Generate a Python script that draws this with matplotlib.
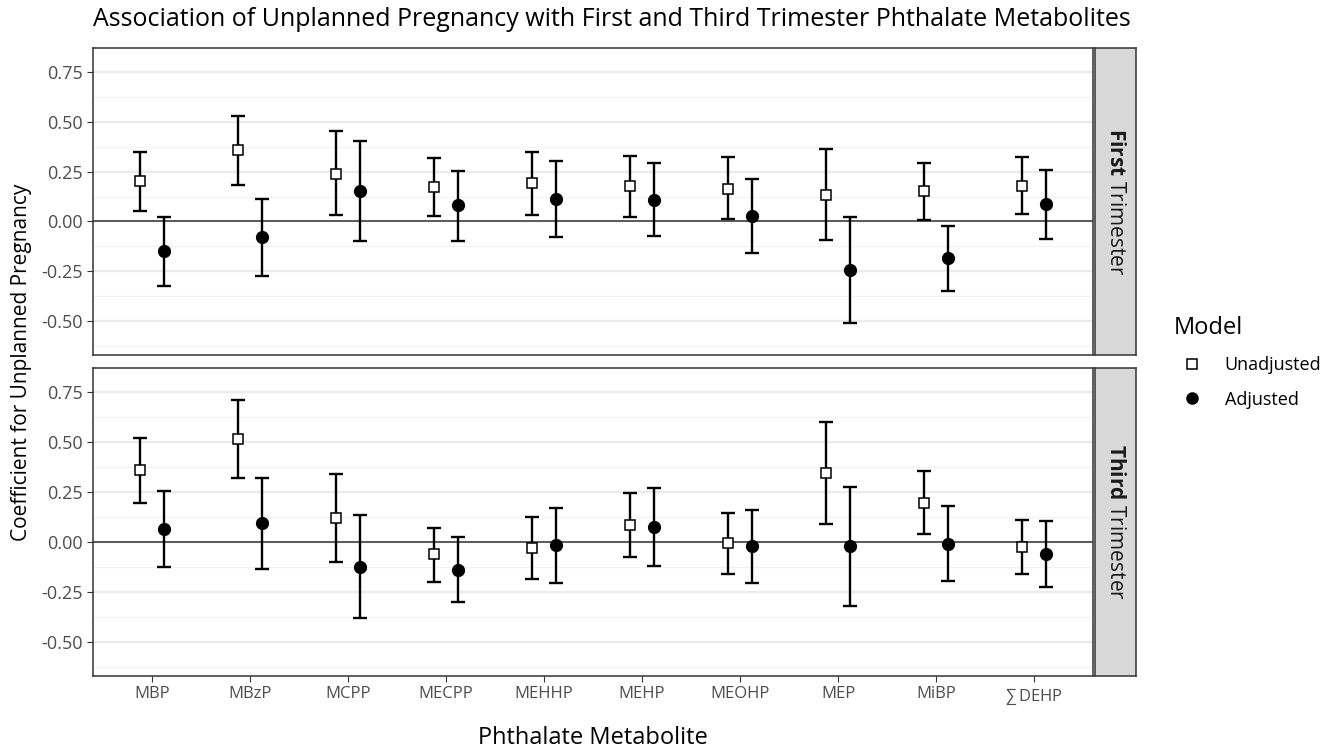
import numpy as np
import matplotlib
matplotlib.use("Agg")
import matplotlib.pyplot as plt
from matplotlib.lines import Line2D

plt.rcParams["font.family"] = ["Open Sans", "DejaVu Sans"]
plt.rcParams["mathtext.fontset"] = "custom"
plt.rcParams["mathtext.rm"] = "Open Sans"
plt.rcParams["mathtext.bf"] = "Open Sans:bold"

metabolites = ["MBP", "MBzP", "MCPP", "MECPP", "MEHHP", "MEHP", "MEOHP", "MEP", "MiBP", r"$\sum\,$DEHP"]

# First trimester
first_unadj = [0.203, 0.357, 0.240, 0.173, 0.192, 0.177, 0.165, 0.133, 0.153, 0.180]
first_unadj_lo = [0.053, 0.185, 0.030, 0.027, 0.033, 0.022, 0.012, -0.095, 0.008, 0.037]
first_unadj_hi = [0.347, 0.527, 0.453, 0.317, 0.350, 0.330, 0.322, 0.362, 0.293, 0.322]
first_adj = [-0.150, -0.080, 0.153, 0.080, 0.113, 0.110, 0.028, -0.242, -0.185, 0.085]
first_adj_lo = [-0.322, -0.273, -0.097, -0.097, -0.077, -0.075, -0.158, -0.508, -0.350, -0.087]
first_adj_hi = [0.020, 0.112, 0.405, 0.253, 0.305, 0.295, 0.212, 0.023, -0.022, 0.257]

# Third trimester
third_unadj = [0.358, 0.512, 0.122, -0.062, -0.028, 0.087, -0.007, 0.345, 0.195, -0.025]
third_unadj_lo = [0.197, 0.317, -0.097, -0.197, -0.185, -0.077, -0.157, 0.092, 0.038, -0.160]
third_unadj_hi = [0.518, 0.707, 0.338, 0.070, 0.127, 0.247, 0.145, 0.598, 0.353, 0.112]
third_adj = [0.065, 0.093, -0.123, -0.137, -0.017, 0.073, -0.020, -0.020, -0.008, -0.060]
third_adj_lo = [-0.125, -0.133, -0.380, -0.297, -0.203, -0.120, -0.203, -0.318, -0.195, -0.225]
third_adj_hi = [0.255, 0.320, 0.135, 0.023, 0.170, 0.268, 0.162, 0.277, 0.178, 0.105]

W, H = 1339, 754
fig = plt.figure(figsize=(W / 100, H / 100), dpi=100)


def fx(px):
    return px / W


def fy(py):
    return 1 - py / H


def draw_panel(ax, unadj, ulo, uhi, adj, alo, ahi, show_x):
    x = np.arange(1, len(metabolites) + 1)
    dodge = 0.125
    unadj, ulo, uhi = np.array(unadj), np.array(ulo), np.array(uhi)
    adj, alo, ahi = np.array(adj), np.array(alo), np.array(ahi)

    ax.set_axisbelow(True)
    ax.set_yticks([-0.5, -0.25, 0, 0.25, 0.5, 0.75])
    ax.set_yticks([-0.625, -0.375, -0.125, 0.125, 0.375, 0.625], minor=True)
    ax.grid(axis="y", which="major", color="#EBEBEB", linewidth=1.6)
    ax.grid(axis="y", which="minor", color="#F2F2F2", linewidth=0.9)
    ax.axhline(0, color="#333333", linewidth=1.1, zorder=1)

    ax.errorbar(x - dodge, unadj, yerr=[unadj - ulo, uhi - unadj], fmt="none",
                ecolor="black", elinewidth=1.7, capsize=5, capthick=1.7, zorder=2)
    ax.errorbar(x + dodge, adj, yerr=[adj - alo, ahi - adj], fmt="none",
                ecolor="black", elinewidth=1.7, capsize=5, capthick=1.7, zorder=2)
    ax.plot(x - dodge, unadj, linestyle="none", marker="s", markersize=7.5,
            markerfacecolor="white", markeredgecolor="black", markeredgewidth=1.1, zorder=3)
    ax.plot(x + dodge, adj, linestyle="none", marker="o", markersize=8.5,
            markerfacecolor="black", markeredgecolor="black", zorder=3)

    ax.set_xlim(0.4, 10.6)
    ax.set_ylim(-0.668, 0.868)
    ax.set_xticks(x)
    ax.set_yticklabels(["-0.50", "-0.25", "0.00", "0.25", "0.50", "0.75"])
    ax.tick_params(axis="y", which="major", labelsize=13, labelcolor="#4D4D4D",
                   color="#333333", length=4)
    ax.tick_params(axis="y", which="minor", length=0)
    if show_x:
        ax.set_xticklabels(metabolites)
        ax.tick_params(axis="x", labelsize=12, labelcolor="#4D4D4D", color="#333333", length=4)
    else:
        ax.tick_params(axis="x", length=0, labelbottom=False)
    for s in ax.spines.values():
        s.set_color("#333333")
        s.set_linewidth(1.1)


ax1 = fig.add_axes([fx(93), fy(355), fx(1000), (355 - 48) / H])
ax2 = fig.add_axes([fx(93), fy(676), fx(1000), (676 - 368) / H])
draw_panel(ax1, first_unadj, first_unadj_lo, first_unadj_hi,
           first_adj, first_adj_lo, first_adj_hi, False)
draw_panel(ax2, third_unadj, third_unadj_lo, third_unadj_hi,
           third_adj, third_adj_lo, third_adj_hi, True)

# facet strips
for (top, bot, label) in [(48, 355, r"$\mathbf{First}$ Trimester"),
                          (368, 676, r"$\mathbf{Third}$ Trimester")]:
    sax = fig.add_axes([fx(1095), fy(bot), fx(41), (bot - top) / H])
    sax.set_facecolor("#D9D9D9")
    sax.set_xticks([])
    sax.set_yticks([])
    for s in sax.spines.values():
        s.set_color("#333333")
        s.set_linewidth(1.1)
    sax.text(0.5, 0.5, label, rotation=-90, ha="center", va="center",
             fontsize=15, color="#1A1A1A", transform=sax.transAxes)

fig.text(fx(93), fy(20), "Association of Unplanned Pregnancy with First and Third Trimester Phthalate Metabolites",
         ha="left", va="center", fontsize=18, color="black")
fig.text(fx(22), fy(362), "Coefficient for Unplanned Pregnancy", rotation=90,
         ha="center", va="center", fontsize=15, color="black")
fig.text(fx(593), fy(738), "Phthalate Metabolite", ha="center", va="center",
         fontsize=17, color="black")

handles = [
    Line2D([], [], linestyle="none", marker="s", markersize=7.5, markerfacecolor="white",
           markeredgecolor="black", markeredgewidth=1.1),
    Line2D([], [], linestyle="none", marker="o", markersize=8, markerfacecolor="black",
           markeredgecolor="black"),
]
leg = fig.legend(handles, ["Unadjusted", "Adjusted"], title="Model", loc="upper left",
                 bbox_to_anchor=(fx(1158), fy(300)), frameon=False, fontsize=13,
                 title_fontsize=17, alignment="left", handletextpad=0.8, labelspacing=0.9)

fig.savefig("out.png", dpi=100)
